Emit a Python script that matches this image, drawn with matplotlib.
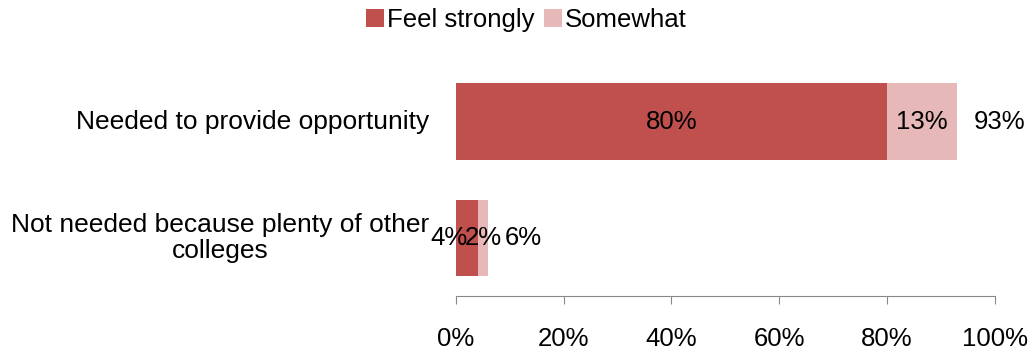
import numpy as np
import matplotlib.pyplot as plt
import matplotlib.transforms as mtransforms

plt.rcParams['font.family'] = ['Liberation Sans', 'DejaVu Sans']

categories = ['Not needed because plenty of other\ncolleges', 'Needed to provide opportunity']
strong = [4, 80]
somewhat = [2, 13]
totals = [6, 93]
series_names = ['Feel strongly', 'Somewhat']
colors = ['#C0504D', '#E6B9B8']

fig = plt.figure(figsize=(10.34, 3.53), dpi=100)
ax = fig.add_axes([0.441, 0.1615, 0.521, 0.658])

y = np.arange(len(categories))
b1 = ax.barh(y, strong, height=0.66, color=colors[0], label=series_names[0])
b2 = ax.barh(y, somewhat, left=strong, height=0.66, color=colors[1], label=series_names[1])

fs = 18.5
for i in range(len(categories)):
    s, w, t = strong[i], somewhat[i], totals[i]
    if s > 10:
        ax.text(s / 2, y[i], f'{s}%', ha='center', va='center', fontsize=fs)
    else:
        ax.annotate(f'{s}%', (s / 2, y[i]), xytext=(-13, 0), textcoords='offset points',
                    ha='center', va='center', fontsize=fs)
    ax.text(s + w / 2, y[i], f'{w}%', ha='center', va='center', fontsize=fs)
    ax.annotate(f'{t}%', (s + w, y[i]), xytext=(12, 0), textcoords='offset points',
                ha='left', va='center', fontsize=fs)

# category labels
for i, cat in enumerate(categories):
    tr = mtransforms.offset_copy(ax.get_yaxis_transform(), fig=fig, x=-19, y=0, units='points')
    ax.text(0, y[i], cat, transform=tr, ha='right', va='center', fontsize=19,
            multialignment='center', linespacing=1.1)

ax.set_xlim(0, 100)
ax.set_ylim(-0.5, 1.5)
ax.set_xticks(np.arange(0, 101, 20))
ax.set_xticklabels([f'{v}%' for v in range(0, 101, 20)], fontsize=fs)
ax.set_yticks([])
for sp in ['top', 'right', 'left']:
    ax.spines[sp].set_visible(False)
ax.spines['bottom'].set_color('#888888')
ax.tick_params(axis='x', colors='#888888', labelcolor='black', length=6, pad=16, direction='out')

fig.legend(handles=[b1, b2], labels=series_names, loc='center', bbox_to_anchor=(0.509, 0.943),
           ncol=2, frameon=False, fontsize=fs, handlelength=0.7, handleheight=0.7,
           handletextpad=0.1, columnspacing=0.4, borderpad=0)

fig.savefig('out.png', dpi=100)
